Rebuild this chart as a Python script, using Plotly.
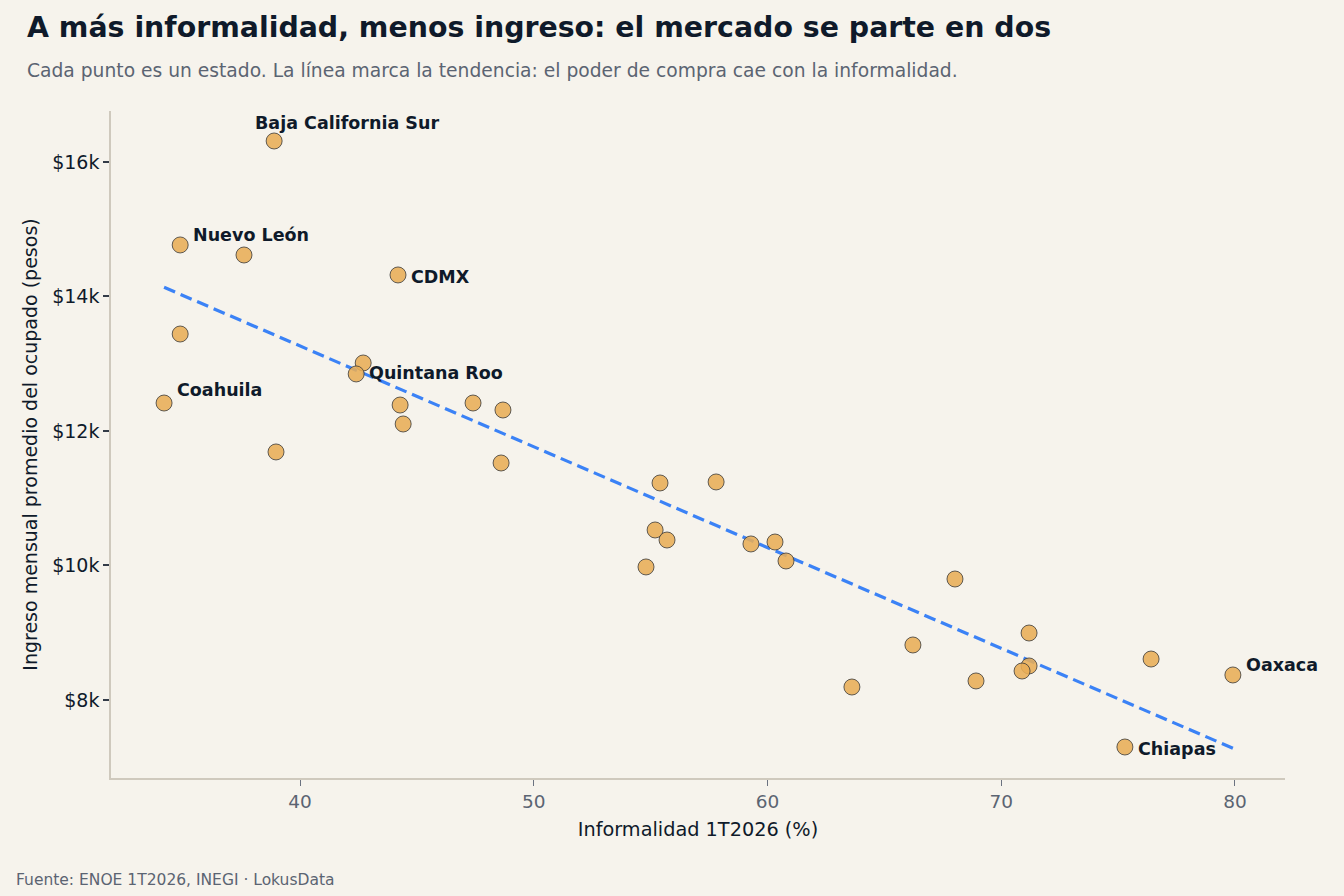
import numpy as np
import plotly.graph_objects as go

informalidad = [38.89, 34.87, 37.60, 44.19, 34.87, 42.70, 42.40, 34.18, 44.28, 47.40,
                48.68, 44.41, 38.97, 48.60, 55.40, 57.80, 55.19, 55.70, 59.29, 60.32,
                60.79, 54.80, 68.02, 71.19, 66.22, 71.19, 70.89, 76.41, 79.91, 63.61,
                68.92, 75.29]
ingreso = [16312, 14766, 14617, 14320, 13442, 13011, 12848, 12416, 12386, 12416,
           12312, 12104, 11688, 11524, 11227, 11242, 10528, 10379, 10320, 10349,
           10067, 9978, 9799, 8996, 8818, 8506, 8431, 8609, 8372, 8193,
           8283, 7301]
etiquetas = ["Baja California Sur", "Nuevo León", "", "CDMX", "", "", "Quintana Roo", "Coahuila",
             "", "", "", "", "", "", "", "", "", "", "", "", "", "", "", "", "", "", "", "",
             "Oaxaca", "", "", "Chiapas"]
# label offsets (px) relative to point
offsets = {"Baja California Sur": (-21, 18), "Nuevo León": (11, 10), "CDMX": (11, -2),
           "Quintana Roo": (11, 1), "Coahuila": (11, 13), "Oaxaca": (11, 10), "Chiapas": (11, -2)}

y_ticks = [8000, 10000, 12000, 14000, 16000]
y_ticktext = ["$8k", "$10k", "$12k", "$14k", "$16k"]
x_ticks = [40, 50, 60, 70, 80]

FONT = "DejaVu Sans"
DARK = "#0f1a2a"
GRAY = "#5b6472"
BG = "#f6f3ec"

m, b = np.polyfit(informalidad, ingreso, 1)
xl = np.array([min(informalidad), max(informalidad)])
yl = m * xl + b

fig = go.Figure()
fig.add_trace(go.Scatter(x=xl, y=yl, mode="lines",
                         line=dict(color="#3b82f6", width=3.2, dash="12px,6px"),
                         hoverinfo="skip", showlegend=False))
fig.add_trace(go.Scatter(x=informalidad, y=ingreso, mode="markers",
                         marker=dict(size=16, color="rgba(232,173,87,0.88)",
                                     line=dict(color="#3a3a3a", width=0.8)),
                         showlegend=False))

for xv, yv, lab in zip(informalidad, ingreso, etiquetas):
    if lab:
        dx, dy = offsets[lab]
        fig.add_annotation(x=xv, y=yv, text=f"<b>{lab}</b>", showarrow=False,
                           xanchor="left", yanchor="middle", xshift=dx, yshift=dy,
                           font=dict(family=FONT, size=17.5, color=DARK))

fig.update_layout(
    width=1344, height=896,
    paper_bgcolor=BG, plot_bgcolor=BG,
    margin=dict(l=111, r=59, t=111, b=118),
    font=dict(family=FONT, color=DARK),
    title=dict(text="<b>A más informalidad, menos ingreso: el mercado se parte en dos</b>",
               x=27 / 1344, xanchor="left", y=1 - 27 / 896, yanchor="middle",
               font=dict(family=FONT, size=28.4, color=DARK)),
    xaxis=dict(range=[31.91, 82.14], tickvals=x_ticks, showgrid=False, zeroline=False,
               showline=True, linecolor="#cfc9bd", linewidth=1.5,
               ticks="outside", ticklen=6, tickcolor="#6b7280", tickwidth=1,
               tickfont=dict(family=FONT, size=18.5, color=GRAY),
               title=dict(text="Informalidad 1T2026 (%)", font=dict(family=FONT, size=19.3, color=DARK),
                          standoff=12)),
    yaxis=dict(range=[6840, 16758], tickvals=y_ticks, ticktext=y_ticktext, showgrid=False,
               zeroline=False, showline=True, linecolor="#cfc9bd", linewidth=1.5,
               ticks="outside", ticklen=6, tickcolor="#333b47", tickwidth=1.5,
               tickfont=dict(family=FONT, size=19, color=DARK),
               title=dict(text="Ingreso mensual promedio del ocupado (pesos)",
                          font=dict(family=FONT, size=19, color=DARK), standoff=10)),
)

fig.add_annotation(xref="paper", yref="paper", x=-86 / 1174, y=1 + 41 / 667,
                   xanchor="left", yanchor="middle", showarrow=False,
                   text="Cada punto es un estado. La línea marca la tendencia: el poder de compra cae con la informalidad.",
                   font=dict(family=FONT, size=18.7, color=GRAY))
fig.add_annotation(xref="paper", yref="paper", x=-97 / 1174, y=-102 / 667,
                   xanchor="left", yanchor="middle", showarrow=False,
                   text="Fuente: ENOE 1T2026, INEGI · LokusData",
                   font=dict(family=FONT, size=15.5, color=GRAY))

fig.write_html("out.html")
